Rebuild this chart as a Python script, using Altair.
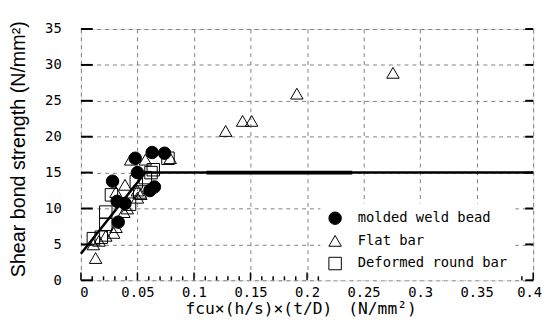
import altair as alt
import pandas as pd

# ---- data ----
bead_x = [0.048, 0.063, 0.074, 0.050, 0.028, 0.065, 0.061, 0.032, 0.039, 0.033]
bead_y = [17.0, 17.8, 17.7, 15.0, 13.8, 13.0, 12.5, 11.0, 10.7, 8.1]

flat_x = [0.276, 0.191, 0.151, 0.143, 0.128,
          0.013, 0.011, 0.016, 0.022, 0.029, 0.031, 0.038, 0.041, 0.031, 0.039,
          0.050, 0.053, 0.044, 0.057, 0.079, 0.050]
flat_y = [28.9, 26.0, 22.2, 22.2, 20.8,
          3.1, 5.0, 5.5, 6.2, 6.6, 7.4, 9.5, 10.0, 12.3, 13.3,
          12.5, 12.0, 16.8, 16.8, 17.0, 11.5]

round_x = [0.077, 0.064, 0.062, 0.049, 0.057, 0.052, 0.027, 0.043, 0.022, 0.022, 0.011, 0.018]
round_y = [17.0, 15.4, 15.0, 13.7, 14.3, 12.3, 11.9, 10.6, 9.5, 7.8, 5.8, 6.0]

series_names = ["molded weld bead", "Flat bar", "Deformed round bar"]

fit_x = [0.0, 0.057, 0.4]
fit_y = [3.7, 15.0, 15.0]
thick_x = [0.111, 0.24]
thick_y = [15.0, 15.0]

x_ticks = [0, 0.05, 0.1, 0.15, 0.2, 0.25, 0.3, 0.35, 0.4]
x_minor = [0.01, 0.02, 0.03, 0.04, 0.06, 0.07, 0.08, 0.09, 0.11, 0.12, 0.13, 0.14,
           0.16, 0.17, 0.18, 0.19, 0.21, 0.22, 0.23, 0.24, 0.26, 0.27, 0.28, 0.29,
           0.31, 0.32, 0.33, 0.34, 0.36, 0.37, 0.38, 0.39]
y_ticks = [0, 5, 10, 15, 20, 25, 30, 35]

W, H = 459, 255
MONO = "DejaVu Sans Mono"

rows = []
for name, xs, ys in [(series_names[0], bead_x, bead_y),
                     (series_names[1], flat_x, flat_y),
                     (series_names[2], round_x, round_y)]:
    for a, b in zip(xs, ys):
        rows.append({"x": a, "y": b, "series": name})
df = pd.DataFrame(rows)

xscale = alt.Scale(domain=[0, 0.4], nice=False, zero=False)
yscale = alt.Scale(domain=[0, 35], nice=False)

xaxis = alt.Axis(values=x_ticks, format="~g", ticks=False, domain=False,
                 grid=True, gridDash=[4, 4], gridColor="#808080", gridWidth=1,
                 labelFont=MONO, labelFontSize=14, labelColor="black",
                 labelPadding=5, labelFlush=False, labelOverlap=False,
                 labelOffset={"condition": [{"test": "datum.value >= 0.39", "value": -4},
                                            {"test": "datum.value <= 0.001", "value": 3}],
                              "value": 0},
                 title="fcu×(h/s)×(t/D)　(N/mm²)", titleFont=MONO,
                 titleFontSize=16.5, titleFontWeight="normal", titleColor="black",
                 titleX=223, titleY=29, titleBaseline="middle")
yaxis = alt.Axis(values=y_ticks, ticks=False, domain=False,
                 grid=True, gridDash=[4, 4], gridColor="#808080", gridWidth=1,
                 labelFont=MONO, labelFontSize=14, labelColor="black",
                 labelPadding=20, labelFlush=False, labelOverlap=False,
                 title="Shear bond strength (N/mm²)", titleFont="Liberation Sans",
                 titleFontSize=20, titleFontWeight="normal", titleColor="black",
                 titleX=-63, titleY=121.5, titleAlign="center", titleBaseline="middle",
                 titleAngle=270)

leg = alt.Legend(title=None, orient="none", legendX=243, legendY=177,
                 fillColor="white", padding=8, labelFont=MONO,
                 labelFontSize=14, labelColor="black", labelOffset=16,
                 rowPadding=6, symbolSize=160, symbolStrokeWidth=1)


def X(field="x"):
    return alt.X(f"{field}:Q", scale=xscale, axis=xaxis)


def Y(field="y"):
    return alt.Y(f"{field}:Q", scale=yscale, axis=yaxis)


points = alt.Chart(df).mark_point(size=160, strokeWidth=1, opacity=1).encode(
    x=X(), y=Y(),
    shape=alt.Shape("series:N", scale=alt.Scale(domain=series_names,
                    range=["circle", "triangle-up", "square"]), legend=leg),
    fill=alt.Fill("series:N", scale=alt.Scale(domain=series_names,
                  range=["black", "transparent", "transparent"]), legend=leg),
    stroke=alt.Stroke("series:N", scale=alt.Scale(domain=series_names,
                      range=["black", "black", "black"]), legend=leg),
)

fit = alt.Chart(pd.DataFrame({"x": fit_x, "y": fit_y})).mark_line(
    color="black", strokeWidth=2.5).encode(x=X(), y=Y())
thick = alt.Chart(pd.DataFrame({"x": thick_x, "y": thick_y})).mark_line(
    color="black", strokeWidth=4).encode(x=X(), y=Y())

xt_major = alt.Chart(pd.DataFrame({"x": x_ticks})).mark_rule(
    color="black", strokeWidth=1.5).encode(
    x=X(), y=alt.value(H), y2=alt.value(H - 8))
xt_minor = alt.Chart(pd.DataFrame({"x": x_minor})).mark_rule(
    color="black", strokeWidth=1.5).encode(
    x=X(), y=alt.value(H), y2=alt.value(H - 4))
yt_left = alt.Chart(pd.DataFrame({"y": y_ticks})).mark_rule(
    color="black", strokeWidth=2).encode(
    y=Y(), x=alt.value(0), x2=alt.value(12))
yt_right = alt.Chart(pd.DataFrame({"y": y_ticks})).mark_rule(
    color="black", strokeWidth=2).encode(
    y=Y(), x=alt.value(W - 8), x2=alt.value(W))

chart = alt.layer(points, xt_major, xt_minor, yt_left, yt_right, fit, thick).properties(
    width=W, height=H,
    autosize=alt.AutoSizeParams(type="none"),
    padding={"left": 74, "top": 19, "right": 11, "bottom": 40},
).configure_view(stroke="black", strokeWidth=2).configure(background="white")

chart.save("out.html", embed_options={"renderer": "svg", "actions": False})
